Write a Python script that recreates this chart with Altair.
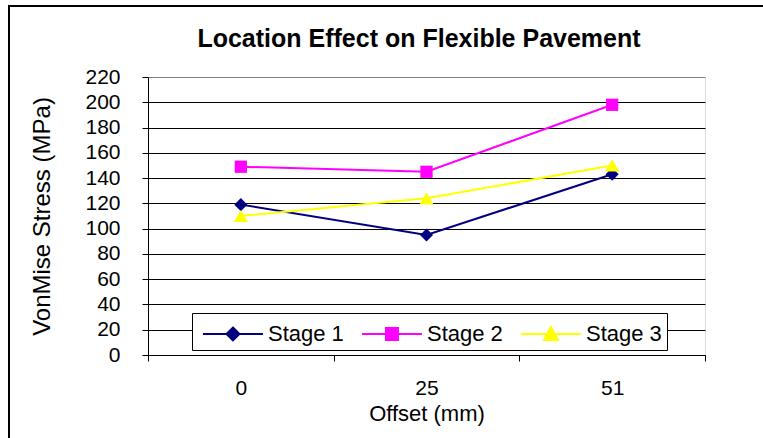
import altair as alt
import pandas as pd

# Chart values
offsets = ["0", "25", "51"]
series_names = ["Stage 1", "Stage 2", "Stage 3"]
stage_1 = [119, 95, 143]
stage_2 = [149, 145, 198]
stage_3 = [110, 124, 150]
y_ticks = list(range(0, 221, 20))
chart_title = "Location Effect on Flexible Pavement"

# Styling per series
colors = ["#000080", "#FF00FF", "#FFFF00"]
marker_shapes = ["diamond", "square", "triangle-up"]
marker_sizes = [170, 150, 200]
# legend keys: a short line with the marker drawn on it (unit = half the symbol side)
legend_keys = [
    "M-0.67,0H3.33M1.33,-0.43L1.76,0L1.33,0.43L0.9,0Z",
    "M-0.67,0H3.33M0.93,-0.4H1.73V0.4H0.93Z",
    "M-0.67,0H3.33M1.33,-0.47L1.8,0.4H0.86Z",
]

FONT = "Liberation Sans"

rows = []
for name, vals in zip(series_names, [stage_1, stage_2, stage_3]):
    for off, val in zip(offsets, vals):
        rows.append({"Offset": off, "Stress": val, "Series": name})
df = pd.DataFrame(rows)

W, H = 557, 278
LEFT, TOP = 148, 77

x_enc = alt.X(
    "Offset:N",
    sort=offsets,
    scale=alt.Scale(type="band", domain=offsets, paddingInner=0, paddingOuter=0),
    axis=alt.Axis(
        title="Offset (mm)",
        labelAngle=0,
        grid=False,
        tickBand="extent",
        tickSize=6,
        tickColor="black",
        domainColor="black",
        domainWidth=1,
        labelFont=FONT,
        labelFontSize=21,
        labelColor="black",
        labelPadding=16,
        titleFont=FONT,
        titleFontSize=22,
        titleFontWeight="normal",
        titleColor="black",
        titleY=58,
        titleBaseline="middle",
    ),
)
y_enc = alt.Y(
    "Stress:Q",
    scale=alt.Scale(domain=[0, 220], nice=False, zero=True),
    axis=alt.Axis(
        title="VonMise Stress (MPa)",
        values=y_ticks,
        grid=True,
        gridColor={"condition": {"test": "datum.value === 220", "value": "#808080"}, "value": "black"},
        gridWidth=1,
        tickSize=6,
        tickColor="black",
        domainColor="black",
        labelFont=FONT,
        labelFontSize=21,
        labelColor="black",
        labelPadding=22,
        labelBaseline="middle",
        titleFont=FONT,
        titleFontSize=24,
        titleFontWeight="normal",
        titleColor="black",
        titleX=-106,
        titleY=H / 2,
        titleAngle=-90,
        titleAlign="center",
        titleBaseline="middle",
    ),
)

base = alt.Chart(df)

layers = []
for name, col, shp, sz in zip(series_names, colors, marker_shapes, marker_sizes):
    sub = base.transform_filter(alt.datum.Series == name)
    layers.append(sub.mark_line(color=col, strokeWidth=2).encode(x=x_enc, y=y_enc))
    layers.append(
        sub.mark_point(shape=shp, filled=True, color=col, size=sz, opacity=1).encode(x=x_enc, y=y_enc)
    )

# invisible layer that carries the series legend
legend_layer = base.mark_point(filled=True, opacity=0, strokeWidth=2).encode(
    x=x_enc,
    y=y_enc,
    shape=alt.Shape(
        "Series:N",
        scale=alt.Scale(domain=series_names, range=legend_keys),
        legend=alt.Legend(
            title=None,
            orient="none",
            legendX=44,
            legendY=236,
            direction="horizontal",
            columns=3,
            fillColor="white",
            strokeColor="black",
            padding=5,
            symbolSize=900,
            symbolStrokeWidth=2,
            symbolOpacity=1,
            labelFont=FONT,
            labelFontSize=22,
            labelColor="black",
            labelOffset=39,
            columnPadding=12,
        ),
    ),
    fill=alt.Fill("Series:N", scale=alt.Scale(domain=series_names, range=colors)),
    stroke=alt.Stroke("Series:N", scale=alt.Scale(domain=series_names, range=colors)),
)

# chart title, set above the plot area
title_text = alt.Chart(alt.Data(values=[{"t": chart_title}])).mark_text(
    font=FONT, fontSize=25, fontWeight="bold", color="black", align="center", baseline="alphabetic"
).encode(text="t:N", x=alt.value(419 - LEFT), y=alt.value(47 - TOP))

# outer chart frame (top and left edges)
frame_data = alt.Data(values=[{"k": 0}])
frame_top = alt.Chart(frame_data).mark_rule(color="black", strokeWidth=2).encode(
    x=alt.value(-LEFT + 9), x2=alt.value(763 - LEFT), y=alt.value(-TOP + 6)
)
frame_left = alt.Chart(frame_data).mark_rule(color="black", strokeWidth=2).encode(
    x=alt.value(-LEFT + 9), y=alt.value(-TOP + 5), y2=alt.value(438 - TOP)
)

chart = (
    alt.layer(*layers, legend_layer, title_text, frame_top, frame_left)
    .properties(
        width=W,
        height=H,
        autosize=alt.AutoSizeParams(type="none"),
        padding={"left": LEFT, "top": TOP, "right": 763 - LEFT - W, "bottom": 438 - TOP - H},
    )
    .configure_view(fill="#C0C0C0", stroke="#808080", strokeWidth=2)
    .configure(background="white")
)

chart.save("out.html", embed_options={"renderer": "svg", "actions": False})
